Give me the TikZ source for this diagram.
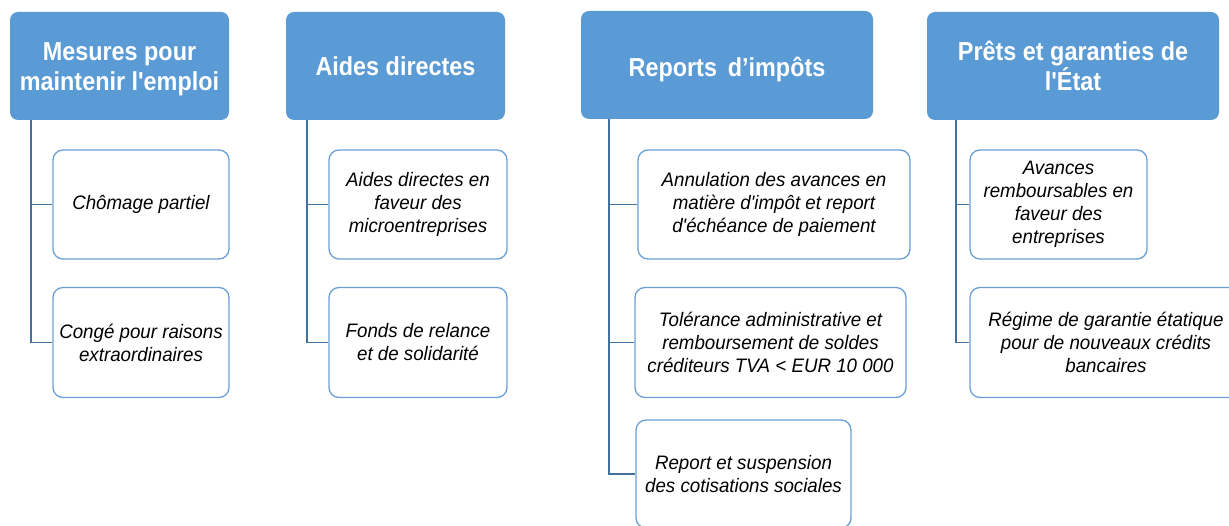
\documentclass[tikz,border=0pt]{standalone}
\usepackage{fontspec}
\setmainfont{Liberation Sans}
\newfontfamily\headfont[FakeStretch=0.9]{Liberation Sans}
\newfontfamily\itemfont[FakeStretch=0.96]{Liberation Sans}
\definecolor{headblue}{HTML}{5B9BD5}
\definecolor{edgeblue}{HTML}{6A9FD6}
\definecolor{linkblue}{HTML}{41719C}
\newcommand{\lowertext}[1]{\raisebox{-4pt}[\height][\depth]{#1}}

\begin{document}
\begin{tikzpicture}[x=1pt,y=-1pt,
  head/.style={rectangle,rounded corners=8pt,fill=headblue,draw=none,text=white,
    inner sep=0pt,align=center,font=\headfont\bfseries\fontsize{26}{30}\selectfont},
  item/.style={rectangle,rounded corners=10pt,fill=white,draw=edgeblue,line width=1.3pt,
    inner sep=0pt,align=center,font=\itemfont\itshape\fontsize{19.5}{23}\selectfont},
  link/.style={draw=linkblue,line width=1.6pt}]
\path[use as bounding box] (0,0) rectangle (1229,526);
% headers
\node[head,minimum width=219pt,minimum height=108pt] (h1) at (119.5,66) {\lowertext{\begin{tabular}{@{}c@{}}Mesures pour\\maintenir l'emploi\end{tabular}}};
\node[head,minimum width=219pt,minimum height=108pt] (h2) at (395.5,66) {Aides directes};
\node[head,minimum width=292pt,minimum height=108pt] (h3) at (727,65) {\lowertext{Reports\, d’impôts}};
\node[head,minimum width=292pt,minimum height=108pt] (h4) at (1073,66) {Prêts et garanties de\\l'État};
% items
\node[item,minimum width=176pt,minimum height=109pt] (c11) at (141,204.5) {Chômage partiel};
\node[item,minimum width=176pt,minimum height=110pt] (c12) at (141,342.5) {Congé pour raisons\\extraordinaires};
\node[item,minimum width=178pt,minimum height=109pt] (c21) at (418,204.5) {Aides directes en\\faveur des\\microentreprises};
\node[item,minimum width=178pt,minimum height=110pt] (c22) at (418,342.5) {Fonds de relance\\et de solidarité};
\node[item,minimum width=272pt,minimum height=109pt] (c31) at (774,204.5) {Annulation des avances en\\matière d'impôt et report\\d'échéance de paiement};
\node[item,minimum width=271pt,minimum height=110pt] (c32) at (770.5,342.5) {Tolérance administrative et\\remboursement de soldes\\créditeurs TVA < EUR 10 000};
\node[item,minimum width=215pt,minimum height=108pt] (c33) at (743.5,474) {Report et suspension\\des cotisations sociales};
\node[item,minimum width=177pt,minimum height=109pt] (c41) at (1058.5,204.5) {Avances\\remboursables en\\faveur des\\entreprises};
\node[item,minimum width=272pt,minimum height=110pt] (c42) at (1106,342.5) {Régime de garantie étatique\\pour de nouveaux crédits\\bancaires};
% trunks
\coordinate (t1) at (31,120);
\coordinate (t2) at (307,120);
\coordinate (t3) at (609,119);
\coordinate (t4) at (956,120);
\draw[link] (t1) |- (c11.west);
\draw[link] (t1) |- (c12.west);
\draw[link] (t2) |- (c21.west);
\draw[link] (t2) |- (c22.west);
\draw[link] (t3) |- (c31.west);
\draw[link] (t3) |- (c32.west);
\draw[link] (t3) |- (c33.west);
\draw[link] (t4) |- (c41.west);
\draw[link] (t4) |- (c42.west);
\end{tikzpicture}
\end{document}
